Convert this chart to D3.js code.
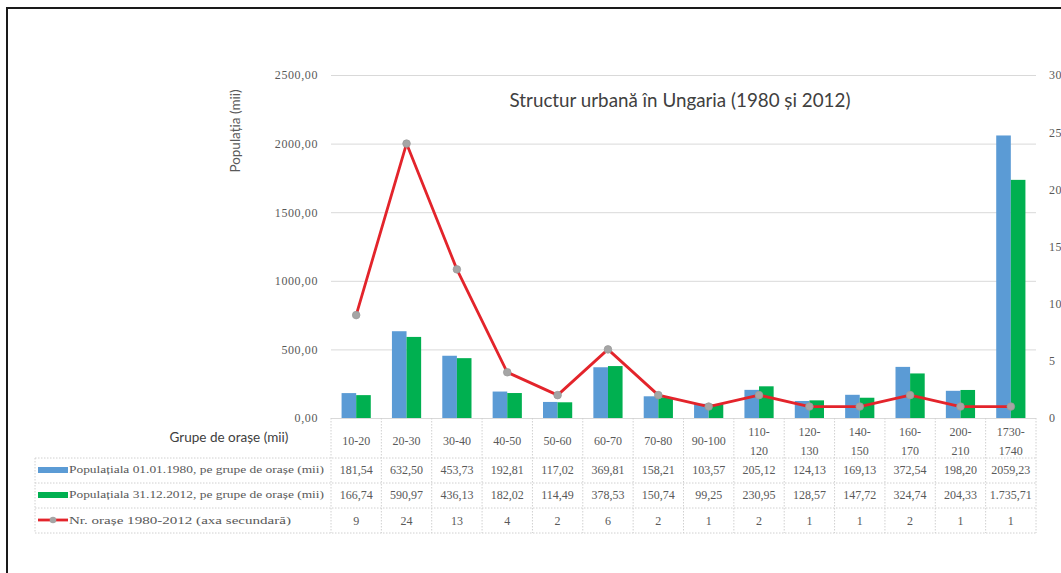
<!DOCTYPE html>
<html>
<head>
<meta charset="utf-8">
<script src="https://cdn.jsdelivr.net/npm/d3@7"></script>
<style>
  html, body { margin: 0; padding: 0; background: #fff; overflow: hidden; }
  svg { display: block; }
</style>
</head>
<body>
<svg id="chart" width="1061" height="573"></svg>
<script>
// Town size groups (thousand inhabitants)
const categories = ["10-20", "20-30", "30-40", "40-50", "50-60", "60-70", "70-80", "90-100",
  "110-120", "120-130", "140-150", "160-170", "200-210", "1730-1740"];
// Population per group, thousands
const pop1980 = [181.54, 632.50, 453.73, 192.81, 117.02, 369.81, 158.21, 103.57, 205.12, 124.13, 169.13, 372.54, 198.20, 2059.23];
const pop2012 = [166.74, 590.97, 436.13, 182.02, 114.49, 378.53, 150.74, 99.25, 230.95, 128.57, 147.72, 324.74, 204.33, 1735.71];
// Number of towns in each group (secondary axis)
const towns = [9, 24, 13, 4, 2, 6, 2, 1, 2, 1, 1, 2, 1, 1];

const leftTicks = [0, 500, 1000, 1500, 2000, 2500];
const rightTicks = [0, 5, 10, 15, 20, 25, 30];

const seriesNames = [
  "Populațiala 01.01.1980, pe grupe de orașe (mii)",
  "Populațiala 31.12.2012, pe grupe de orașe (mii)",
  "Nr. orașe 1980-2012 (axa secundară)"
];

const roLocale = d3.formatLocale({ decimal: ",", thousands: ".", grouping: [3], currency: ["", " lei"] });
const fmtTick = roLocale.format(".2f");
const fmtRow1 = roLocale.format(".2f");
const fmtRow2 = roLocale.format(",.2f");

const blue = "#5b9bd5", green = "#00b050", red = "#e3242b", marker = "#a5a5a5";
const textGray = "#595959";
const serif = "'Liberation Serif', 'DejaVu Serif', serif";
const sans = "Lato, 'Open Sans', sans-serif";

const svg = d3.select("#chart");

// outer frame (only top and left edges fall inside the page)
svg.append("path")
  .attr("d", "M7,1073 L7,8 L1100,8")
  .attr("fill", "none").attr("stroke", "#1a1a1a").attr("stroke-width", 2);

const plotTop = 75, plotBottom = 418, plotLeft = 331, plotRight = 1036;

const x = d3.scaleBand().domain(categories).range([plotLeft, plotRight]).paddingInner(0.42).paddingOuter(0.21);
const step = x.step();
const bandStart = c => x(c) - step * x.paddingInner() / 2;
const xInner = d3.scaleBand().domain(["a", "b"]).range([0, x.bandwidth()]);
const y = d3.scaleLinear().domain([0, 2500]).range([plotBottom, plotTop]);
const y2 = d3.scaleLinear().domain([0, 30]).range([plotBottom, plotTop]);

// gridlines + left axis
const gridAxis = d3.axisLeft(y).tickValues(leftTicks).tickSize(-(plotRight - plotLeft)).tickFormat(fmtTick).tickPadding(13);
const gLeft = svg.append("g").attr("transform", `translate(${plotLeft},0)`).call(gridAxis);
gLeft.select(".domain").remove();
gLeft.selectAll(".tick line").attr("stroke", "#d9d9d9").attr("stroke-width", 1);
gLeft.selectAll(".tick text").attr("fill", textGray).style("font-family", serif)
  .style("font-size", "12px").style("letter-spacing", "0.6px");

// right axis
const gRight = svg.append("g").attr("transform", `translate(${plotRight + 7},0)`)
  .call(d3.axisRight(y2).tickValues(rightTicks).tickSize(0).tickPadding(6));
gRight.select(".domain").remove();
gRight.selectAll(".tick text").attr("fill", textGray).style("font-family", serif)
  .style("font-size", "12px").style("letter-spacing", "0.6px");

// bars
const groups = svg.append("g").selectAll("g").data(categories).join("g")
  .attr("transform", d => `translate(${x(d)},0)`);
groups.append("rect")
  .attr("x", xInner("a")).attr("width", xInner.bandwidth())
  .attr("y", (d, i) => y(pop1980[i])).attr("height", (d, i) => y(0) - y(pop1980[i]))
  .attr("fill", blue);
groups.append("rect")
  .attr("x", xInner("b")).attr("width", xInner.bandwidth())
  .attr("y", (d, i) => y(pop2012[i])).attr("height", (d, i) => y(0) - y(pop2012[i]))
  .attr("fill", green);

// town count line
const cx = c => x(c) + x.bandwidth() / 2;
const line = d3.line().x((d, i) => cx(categories[i])).y(d => y2(d));
svg.append("path").datum(towns).attr("d", line)
  .attr("fill", "none").attr("stroke", red).attr("stroke-width", 2.8).attr("stroke-linejoin", "round");
svg.append("g").selectAll("circle").data(towns).join("circle")
  .attr("cx", (d, i) => cx(categories[i])).attr("cy", d => y2(d)).attr("r", 3.8)
  .attr("fill", marker).attr("stroke", "#9a9a9a").attr("stroke-width", 0.8);

// title and axis titles
svg.append("text").attr("x", 680).attr("y", 107).attr("text-anchor", "middle")
  .style("font-family", sans).style("font-size", "18.8px").attr("fill", "#404040")
  .text("Structur urbană în Ungaria (1980 și 2012)");
svg.append("text").attr("transform", "translate(240,131) rotate(-90)").attr("text-anchor", "middle")
  .style("font-family", sans).style("font-size", "13.5px").attr("fill", textGray)
  .text("Populația (mii)");
svg.append("text").attr("x", 229).attr("y", 442).attr("text-anchor", "middle")
  .style("font-family", sans).style("font-size", "13.5px").attr("fill", "#404040")
  .text("Grupe de orașe (mii)");

// data table
const tableLeft = 35;
const rowLines = [458, 483, 508, 533];
const gridStyle = sel => sel.attr("stroke", "#d0d0d0").attr("stroke-width", 1).attr("stroke-dasharray", "1.5,1.5");
const tbl = svg.append("g");
rowLines.forEach(yy => tbl.append("line").attr("x1", tableLeft).attr("x2", plotRight).attr("y1", yy).attr("y2", yy).call(gridStyle));
categories.concat([null]).forEach((c, i) => {
  const xx = c ? bandStart(c) : bandStart(categories[categories.length - 1]) + step;
  tbl.append("line").attr("x1", xx).attr("x2", xx).attr("y1", plotBottom).attr("y2", 533).call(gridStyle);
});
tbl.append("line").attr("x1", tableLeft).attr("x2", tableLeft).attr("y1", 458).attr("y2", 533).call(gridStyle);

// header: category labels (long ones wrap after the dash)
categories.forEach(c => {
  const t = tbl.append("text").attr("x", cx(c)).attr("text-anchor", "middle")
    .style("font-family", serif).style("font-size", "12px").attr("fill", textGray);
  if (c.length > 6) {
    const parts = c.split("-");
    t.append("tspan").attr("x", cx(c)).attr("y", 436).text(parts[0] + "-");
    t.append("tspan").attr("x", cx(c)).attr("y", 455).text(parts[1]);
  } else {
    t.attr("y", 445).text(c);
  }
});

// rows: values
const rows = [
  { values: pop1980, fmt: fmtRow1, y: 474 },
  { values: pop2012, fmt: fmtRow2, y: 499 },
  { values: towns, fmt: d => String(d), y: 525 }
];
rows.forEach(r => {
  r.values.forEach((v, i) => {
    tbl.append("text").attr("x", cx(categories[i])).attr("y", r.y).attr("text-anchor", "middle")
      .style("font-family", serif).style("font-size", "12px").attr("fill", textGray)
      .text(r.fmt(v));
  });
});

// rows: legend keys
const keyX = 38;
tbl.append("rect").attr("x", keyX).attr("y", 467).attr("width", 30).attr("height", 6).attr("fill", blue);
tbl.append("rect").attr("x", keyX).attr("y", 492).attr("width", 30).attr("height", 6).attr("fill", green);
tbl.append("line").attr("x1", keyX).attr("x2", keyX + 30).attr("y1", 520).attr("y2", 520).attr("stroke", red).attr("stroke-width", 2.8);
tbl.append("circle").attr("cx", keyX + 15).attr("cy", 520).attr("r", 3.3).attr("fill", marker);
const legendWidths = [255, 255, 222];
seriesNames.forEach((n, i) => {
  tbl.append("text").attr("x", keyX + 31).attr("y", rows[i].y - 1)
    .style("font-family", serif).style("font-size", "10px").attr("fill", textGray).text(n)
    .attr("textLength", legendWidths[i]).attr("lengthAdjust", "spacingAndGlyphs");
});
</script>
</body>
</html>
